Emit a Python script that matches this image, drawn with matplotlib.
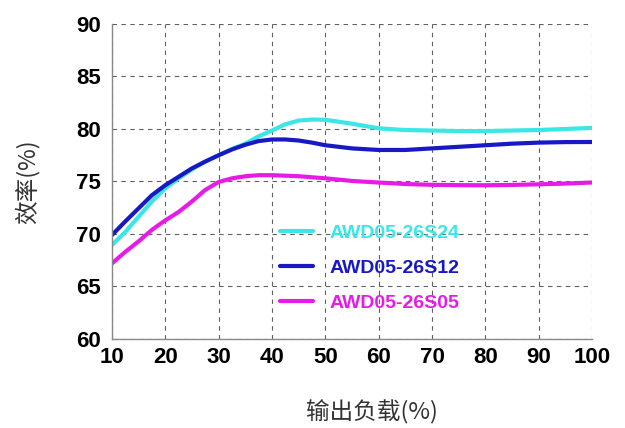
import matplotlib
matplotlib.use("Agg")
import matplotlib.pyplot as plt

# ── Data ──────────────────────────────────────────────────────────────
load = [10, 12.5, 15, 17.5, 20, 22.5, 25, 27.5, 30, 32.5, 35, 37.5, 40, 42.5,
        45, 47.5, 50, 55, 60, 65, 70, 75, 80, 85, 90, 95, 100]

eff_s24 = [68.95, 70.2, 71.65, 73.1, 74.35, 75.3, 76.15, 76.9, 77.5, 78.1, 78.6,
           79.3, 79.85, 80.45, 80.8, 80.9, 80.88, 80.5, 80.06, 79.9, 79.85,
           79.8, 79.8, 79.85, 79.9, 80.0, 80.1]
eff_s12 = [69.9, 71.2, 72.45, 73.7, 74.65, 75.45, 76.25, 76.9, 77.5, 78.05, 78.5,
           78.85, 79.0, 79.0, 78.9, 78.7, 78.45, 78.15, 78.0, 78.0, 78.15,
           78.3, 78.45, 78.6, 78.7, 78.75, 78.76]
eff_s05 = [67.2, 68.3, 69.3, 70.4, 71.3, 72.1, 73.1, 74.2, 74.95, 75.3, 75.5,
           75.6, 75.6, 75.55, 75.5, 75.4, 75.3, 75.05, 74.9, 74.76, 74.68,
           74.65, 74.64, 74.67, 74.73, 74.8, 74.9]

series_names = ["AWD05-26S24", "AWD05-26S12", "AWD05-26S05"]
series_colors = ["#3ae6e6", "#1818c4", "#e61ce6"]

x_ticks = list(range(10, 101, 10))
y_ticks = list(range(60, 91, 5))

# ── Plot ──────────────────────────────────────────────────────────────
plt.rcParams["font.family"] = ["Liberation Sans", "Noto Sans CJK SC", "DejaVu Sans"]
cjk = ["Noto Sans CJK SC", "DejaVu Sans"]

fig = plt.figure(figsize=(6.25, 4.28), dpi=100)
ax = fig.add_axes([0.1792, 0.208, 0.768, 0.736])

for vals, name, col in zip([eff_s24, eff_s12, eff_s05], series_names, series_colors):
    ax.plot(load, vals, color=col, lw=3, label=name,
            solid_capstyle="round", solid_joinstyle="round")

ax.set_xlim(10, 100)
ax.set_ylim(60, 90)
ax.set_xticks(x_ticks)
ax.set_yticks(y_ticks)
ax.tick_params(length=0, labelsize=16)
ax.tick_params(axis="x", pad=6)
ax.tick_params(axis="y", pad=8)
for lbl in ax.get_xticklabels() + ax.get_yticklabels():
    lbl.set_fontweight("bold")

ax.grid(True, color="#606060", ls=(0, (4, 4)), lw=0.8)
for side in ["top", "right"]:
    ax.spines[side].set_visible(False)
for side in ["left", "bottom"]:
    ax.spines[side].set_color("#888888")
    ax.spines[side].set_linewidth(1.0)

ax.set_xlabel("输出负载(%)", family=cjk, fontsize=17, color="#333333")
ax.xaxis.set_label_coords(0.542, -0.195)
ax.set_ylabel("效率(%)", family=cjk, fontsize=17, color="#333333")
ax.yaxis.set_label_coords(-0.15, 0.5)

leg = ax.legend(loc="center left", bbox_to_anchor=(0.35, 0.225), frameon=False,
                borderpad=0, borderaxespad=0,
                handlelength=1.7, handletextpad=0.85, labelspacing=0.9,
                prop={"size": 14, "weight": "bold"})
for txt, col in zip(leg.get_texts(), series_colors):
    txt.set_color(col)

fig.savefig("out.png", dpi=100)
